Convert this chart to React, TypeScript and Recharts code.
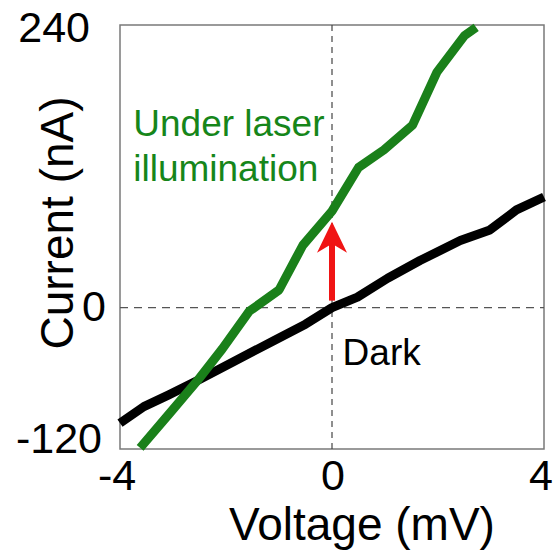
import {
  Line,
  LineChart,
  ReferenceArea,
  ReferenceDot,
  ReferenceLine,
  XAxis,
  YAxis,
} from "recharts";

// I-V curves
const darkVoltage = [-4, -3.55, -3.08, -2.5, -1.86, -1.1, -0.5, 0, 0.48, 1.05, 1.66, 2.42, 2.98, 3.48, 4];
const darkCurrent = [-98, -84, -74, -61, -46, -28, -14, 0, 9, 25, 40, 57, 66, 83, 94];

const laserVoltage = [-3.62, -3.05, -2.54, -2.07, -1.56, -1.0, -0.55, 0.0, 0.5, 0.98, 1.52, 1.98, 2.5, 2.72];
const laserCurrent = [-119, -89, -62, -35, -3, 15, 53, 82, 119, 134, 155, 200, 231, 238];

const voltageTicks = [-4, 0, 4];
const currentTicks = [-120, 0, 240];

const darkData = darkVoltage.map((v, i) => ({ v, i: darkCurrent[i] }));
const laserData = laserVoltage.map((v, i) => ({ v, i: laserCurrent[i] }));

const FONT = '"Liberation Sans", Arial, Helvetica, sans-serif';
const GREEN = "#1a801a";
const PLOT_LEFT = 120;

const YTick = ({ y, payload }: any) => {
  const v = payload.value;
  // label nudges to match the original figure
  const pos =
    v === 240 ? { right: 90, dy: 17 } : v === 0 ? { right: 106, dy: 13 } : { right: 102, dy: 4 };
  return (
    <text
      x={pos.right}
      y={y + pos.dy}
      textAnchor="end"
      fontSize={43}
      fontFamily={FONT}
      fill="#000"
    >
      {v}
    </text>
  );
};

const XTick = ({ x, payload }: any) => {
  const dx = payload.value === 0 ? 1 : -3;
  return (
    <text x={x + dx} y={490} textAnchor="middle" fontSize={43} fontFamily={FONT} fill="#000">
      {payload.value}
    </text>
  );
};

const Arrow = (props: any) => {
  const { x1, y1, x2, y2 } = props;
  const top = Math.min(y1, y2);
  const bottom = Math.max(y1, y2);
  return (
    <g>
      <line x1={x1} y1={bottom} x2={x1} y2={top + 20} stroke="#f01414" strokeWidth={6} />
      <polygon
        points={`${x1},${top} ${x1 + 15},${top + 31} ${x1},${top + 22} ${x1 - 15},${top + 31}`}
        fill="#f01414"
      />
    </g>
  );
};

const note = (lines: string[], color: string) => (props: any) => (
  <text x={props.cx} y={props.cy} fontSize={37} fontFamily={FONT} fill={color}>
    {lines.map((t, k) => (
      <tspan key={t} x={props.cx} dy={k === 0 ? 0 : 45}>
        {t}
      </tspan>
    ))}
  </text>
);

export default function App() {
  return (
    <div style={{ position: "absolute", left: 0, top: 0, background: "#fff" }}>
      <LineChart
        width={554}
        height={557}
        margin={{ top: 25, right: 10, bottom: 0, left: 0 }}
        style={{ fontFamily: FONT }}
      >
        <XAxis
          type="number"
          dataKey="v"
          domain={[-4, 4]}
          ticks={voltageTicks}
          axisLine={false}
          tickLine={false}
          height={108}
          tick={<XTick />}
          allowDuplicatedCategory={false}
          label={{
            content: ({ viewBox }: any) => (
              <text
                x={viewBox.x + viewBox.width / 2 + 30}
                y={540}
                textAnchor="middle"
                fontSize={46}
                fontFamily={FONT}
                fill="#000"
              >
                Voltage (mV)
              </text>
            ),
          }}
        />
        <YAxis
          type="number"
          dataKey="i"
          domain={[-120, 240]}
          ticks={currentTicks}
          axisLine={false}
          tickLine={false}
          width={PLOT_LEFT}
          tick={<YTick />}
          label={{
            content: () => (
              <text
                x={73}
                y={223}
                transform="rotate(-90 73 223)"
                textAnchor="middle"
                fontSize={46}
                fontFamily={FONT}
                fill="#000"
              >
                Current (nA)
              </text>
            ),
          }}
        />
        <ReferenceArea
          x1={-4}
          x2={4}
          y1={-120}
          y2={240}
          fill="none"
          stroke="#7a7a7a"
          strokeWidth={1.5}
          fillOpacity={0}
        />
        <ReferenceLine x={0} stroke="#444" strokeWidth={1.2} strokeDasharray="6 5" />
        <ReferenceLine y={0} stroke="#555" strokeWidth={1.2} strokeDasharray="8 6" />
        <Line
          data={darkData}
          dataKey="i"
          type="linear"
          stroke="#000"
          strokeWidth={9}
          strokeLinejoin="round"
          dot={false}
          isAnimationActive={false}
        />
        <Line
          data={laserData}
          dataKey="i"
          type="linear"
          stroke={GREEN}
          strokeWidth={9}
          strokeLinejoin="round"
          dot={false}
          isAnimationActive={false}
        />
        <ReferenceLine
          segment={[
            { x: 0, y: 6 },
            { x: 0, y: 73 },
          ]}
          shape={<Arrow />}
        />
        <ReferenceDot x={-3.75} y={146} r={1} shape={note(["Under laser", "illumination"], "#16861a")} />
        <ReferenceDot x={0.2} y={-49} r={1} shape={note(["Dark"], "#000")} />
      </LineChart>
    </div>
  );
}
